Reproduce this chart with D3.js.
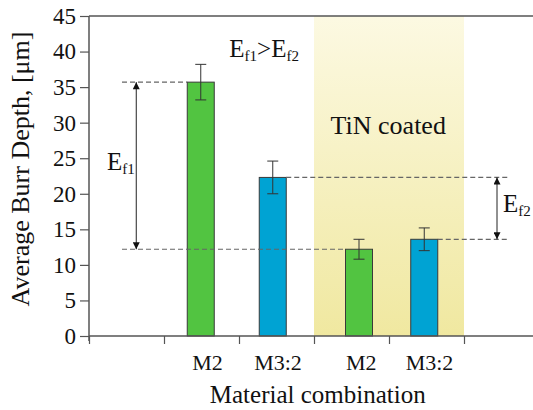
<!DOCTYPE html>
<html>
<head>
<meta charset="utf-8">
<script src="https://cdn.jsdelivr.net/npm/d3@7"></script>
<style>
  html, body { margin: 0; padding: 0; background: #fff; }
  svg { display: block; }
</style>
</head>
<body>
<svg id="chart" width="533" height="410" font-family="Liberation Serif"></svg>
<script>
(function () {
    // data
    const categories = ["M2", "M3:2", "M2", "M3:2"];
    const slots      = [1.49, 2.45, 3.6, 4.47];   // position on the x axis (tick units)
    const labelSlots = [1.58, 2.52, 3.63, 4.54];
    const depth      = [35.7, 22.3, 12.2, 13.6];
    const err        = [2.5, 2.3, 1.4, 1.6];
    const colors     = ["#52c441", "#00a3d3", "#52c441", "#00a3d3"];
    const yTicks     = [0, 5, 10, 15, 20, 25, 30, 35, 40, 45];
    const coatedSpan = [3, 5];

    const FONT = "'Liberation Serif', 'Times New Roman', serif";
    const svg = d3.select("#chart");
    const margin = { top: 16, left: 89 };
    const W = 450, H = 320;

    const x = d3.scaleLinear().domain([0, 6]).range([0, W]);
    const y = d3.scaleLinear().domain([0, 45]).range([H, 0]);

    const defs = svg.append("defs");
    const grad = defs.append("linearGradient").attr("id", "tin")
        .attr("x1", 0).attr("y1", 0).attr("x2", 0).attr("y2", 1);
    grad.append("stop").attr("offset", "0%").attr("stop-color", "#fcf9e2");
    grad.append("stop").attr("offset", "100%").attr("stop-color", "#f0e8a0");

    function arrowMarker(id, orient) {
        defs.append("marker").attr("id", id)
            .attr("viewBox", "0 0 10 10").attr("refX", 10).attr("refY", 5)
            .attr("markerWidth", 12).attr("markerHeight", 7)
            .attr("markerUnits", "userSpaceOnUse")
            .attr("orient", orient)
            .append("path").attr("d", "M0,0L10,5L0,10Z").attr("fill", "#111");
    }
    arrowMarker("arrEnd", "auto");
    arrowMarker("arrStart", "auto-start-reverse");

    const g = svg.append("g").attr("transform", `translate(${margin.left},${margin.top})`);

    // TiN coated zone
    g.append("rect")
        .attr("x", x(coatedSpan[0])).attr("y", 0)
        .attr("width", x(coatedSpan[1]) - x(coatedSpan[0])).attr("height", H)
        .attr("fill", "url(#tin)");

    // top frame
    g.append("line").attr("x1", 0).attr("x2", W).attr("y1", 0).attr("y2", 0)
        .attr("stroke", "#555").attr("stroke-width", 1.5);

    // bars
    const bw = 27;
    g.selectAll("rect.bar").data(depth).join("rect").attr("class", "bar")
        .attr("x", (d, i) => x(slots[i]) - bw / 2)
        .attr("y", d => y(d))
        .attr("width", bw).attr("height", d => H - y(d))
        .attr("fill", (d, i) => colors[i])
        .attr("stroke", "#3a3a3a").attr("stroke-width", 1);

    // error bars
    const cap = 5.5;
    const eb = g.selectAll("g.err").data(depth).join("g").attr("class", "err")
        .attr("stroke", "#333").attr("stroke-width", 1);
    eb.append("line")
        .attr("x1", (d, i) => x(slots[i])).attr("x2", (d, i) => x(slots[i]))
        .attr("y1", (d, i) => y(d + err[i])).attr("y2", (d, i) => y(d - err[i]));
    eb.append("line")
        .attr("x1", (d, i) => x(slots[i]) - cap).attr("x2", (d, i) => x(slots[i]) + cap)
        .attr("y1", (d, i) => y(d + err[i])).attr("y2", (d, i) => y(d + err[i]));
    eb.append("line")
        .attr("x1", (d, i) => x(slots[i]) - cap).attr("x2", (d, i) => x(slots[i]) + cap)
        .attr("y1", (d, i) => y(d - err[i])).attr("y2", (d, i) => y(d - err[i]));

    // axes
    const yAxis = g.append("g")
        .call(d3.axisLeft(y).tickValues(yTicks).tickSize(9).tickPadding(4));
    const xAxis = g.append("g").attr("transform", `translate(0,${H})`)
        .call(d3.axisBottom(x).ticks(6).tickSize(8).tickFormat(""));
    [yAxis, xAxis].forEach(a => {
        a.attr("font-family", "Liberation Serif").attr("font-size", null);
        a.select(".domain").attr("stroke", "#555").attr("stroke-width", 1.5);
        a.selectAll(".tick line").attr("stroke", "#555").attr("stroke-width", 1.2);
    });
    xAxis.select(".domain").attr("d", `M0,0H${W}`);
    yAxis.select(".domain").attr("d", `M0,${H + 5}V0`);
    yAxis.selectAll("text").style("font-family", FONT).style("font-size", "23px").attr("fill", "#111");

    g.selectAll("text.cat").data(categories).join("text").attr("class", "cat")
        .attr("x", (d, i) => x(labelSlots[i])).attr("y", H + 34)
        .attr("text-anchor", "middle")
        .style("font-family", FONT).style("font-size", "22px").attr("fill", "#111")
        .text(d => d);

    // dashed reference lines and arrows
    const dash = (x1, x2, v) => g.append("line")
        .attr("x1", x1).attr("x2", x2).attr("y1", y(v)).attr("y2", y(v))
        .attr("stroke", "#666").attr("stroke-width", 1.2).attr("stroke-dasharray", "5,3");
    dash(x(0.44), x(slots[0]) - bw / 2, depth[0]);
    dash(x(0.44), x(slots[2]) - bw / 2, depth[2]);
    dash(x(slots[1]) + bw / 2, x(5.6), depth[1]);
    dash(x(slots[3]) + bw / 2, x(5.6), depth[3]);

    const arrow = (xx, v1, v2) => g.append("line")
        .attr("x1", xx).attr("x2", xx).attr("y1", y(v1)).attr("y2", y(v2))
        .attr("stroke", "#222").attr("stroke-width", 1)
        .attr("marker-start", "url(#arrStart)").attr("marker-end", "url(#arrEnd)");
    arrow(x(0.63), depth[0], depth[2]);
    arrow(x(5.44), depth[1], depth[3]);

    const txt = (px, py, size) => g.append("text").attr("x", px).attr("y", py)
        .attr("fill", "#111").style("font-family", FONT).style("font-size", size + "px");

    function eLabel(px, py, sub) {
        const t = txt(px, py, 25);
        t.append("tspan").text("E");
        t.append("tspan").text(sub).style("font-size", "15px").attr("dy", 4);
        return t;
    }
    eLabel(x(0.24), y(23.4), "f1");
    eLabel(x(5.52), y(17.4), "f2");

    const cmp = txt(x(1.87), y(39.2), 25);
    cmp.append("tspan").text("E");
    cmp.append("tspan").text("f1").style("font-size", "15px").attr("dy", 4);
    cmp.append("tspan").text(">E").attr("dy", -4);
    cmp.append("tspan").text("f2").style("font-size", "15px").attr("dy", 4);

    txt(x(3.99), y(28.4), 26).attr("text-anchor", "middle").text("TiN coated");

    // axis titles
    txt(-H / 2 + 7, -60, 26)
        .attr("transform", "rotate(-90)")
        .attr("text-anchor", "middle")
        .text("Average Burr Depth, [μm]");
    txt(x(3.05), H + 67, 25)
        .attr("text-anchor", "middle")
        .text("Material combination");
})();
</script>
</body>
</html>
